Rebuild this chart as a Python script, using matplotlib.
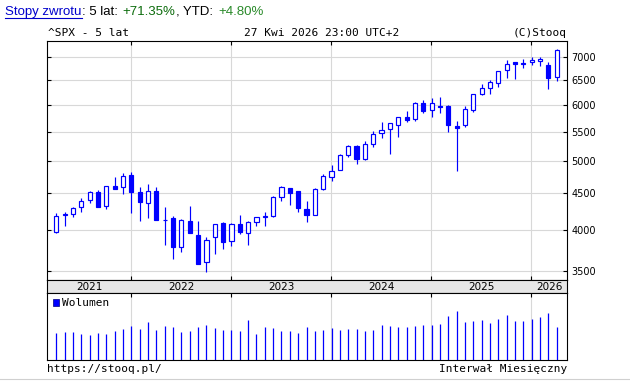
import matplotlib
matplotlib.use('Agg')
import matplotlib.pyplot as plt
from matplotlib.ticker import FixedLocator, NullLocator, FixedFormatter
from matplotlib.lines import Line2D
from matplotlib.patches import Rectangle
import numpy as np

# ---------------- data (monthly ^SPX candles, Apr 2021 - Apr 2026) ----------------
months = ['2021-04', '2021-05', '2021-06', '2021-07', '2021-08', '2021-09', '2021-10', '2021-11', '2021-12',
          '2022-01', '2022-02', '2022-03', '2022-04', '2022-05', '2022-06', '2022-07', '2022-08', '2022-09',
          '2022-10', '2022-11', '2022-12',
          '2023-01', '2023-02', '2023-03', '2023-04', '2023-05', '2023-06', '2023-07', '2023-08', '2023-09',
          '2023-10', '2023-11', '2023-12',
          '2024-01', '2024-02', '2024-03', '2024-04', '2024-05', '2024-06', '2024-07', '2024-08', '2024-09',
          '2024-10', '2024-11', '2024-12',
          '2025-01', '2025-02', '2025-03', '2025-04', '2025-05', '2025-06', '2025-07', '2025-08', '2025-09',
          '2025-10', '2025-11', '2025-12',
          '2026-01', '2026-02', '2026-03', '2026-04']

opens = [3974, 4192, 4216, 4300, 4406, 4528, 4317, 4610, 4602,
         4778, 4519, 4363, 4540, 4130, 4150, 3781, 4113, 3937, 3609, 3902, 4087,
         3853, 4071, 3964, 4102, 4167, 4181, 4450, 4578, 4530, 4284, 4201, 4559,
         4745, 4861, 5098, 5257, 5029, 5283, 5471, 5538, 5624, 5758, 5724, 6040,
         5903, 5970, 5968, 5597, 5626, 5897, 6205, 6341, 6448, 6715, 6886, 6860,
         6890, 6910, 6820, 6560]
highs = [4218, 4238, 4302, 4429, 4537, 4546, 4608, 4743, 4808,
         4819, 4595, 4637, 4593, 4307, 4177, 4140, 4325, 4119, 3906, 4080, 4101,
         4095, 4195, 4110, 4170, 4231, 4458, 4607, 4584, 4541, 4393, 4587, 4793,
         4932, 5111, 5265, 5264, 5342, 5505, 5670, 5651, 5767, 5878, 6045, 6100,
         6128, 6147, 5986, 5696, 5968, 6215, 6427, 6508, 6699, 6930, 6890, 6952,
         7000, 7004, 6900, 7190]
lows = [3955, 4056, 4164, 4233, 4367, 4306, 4278, 4560, 4495,
        4223, 4115, 4157, 4124, 3811, 3637, 3722, 3955, 3584, 3492, 3699, 3764,
        3794, 3943, 3809, 4049, 4048, 4167, 4385, 4335, 4238, 4104, 4197, 4547,
        4683, 4853, 5057, 4954, 5011, 5235, 5391, 5120, 5403, 5674, 5696, 5833,
        5773, 5837, 5489, 4835, 5578, 5861, 6201, 6212, 6360, 6551, 6528, 6760,
        6820, 6800, 6320, 6480]
closes = [4181, 4204, 4297, 4395, 4523, 4308, 4605, 4567, 4766,
          4516, 4374, 4530, 4132, 4132, 3785, 4130, 3955, 3586, 3872, 4080, 3840,
          4077, 3970, 4109, 4169, 4180, 4450, 4589, 4508, 4288, 4194, 4568, 4770,
          4846, 5096, 5254, 5036, 5278, 5460, 5522, 5648, 5762, 5705, 6032, 5882,
          6041, 5955, 5612, 5569, 5912, 6205, 6339, 6460, 6688, 6840, 6849, 6845,
          6930, 6955, 6537, 7174]
volume = [27.3, 28.3, 28.3, 26.3, 25.3, 27.3, 26.3, 29.3, 31.3,
          34.3, 31.3, 38.3, 30.3, 34.3, 33.3, 28.3, 29.3, 33.3, 35.3, 32.3, 30.3,
          30.3, 29.3, 40.3, 26.3, 33.3, 32.3, 29.3, 29.3, 27.3, 33.3, 29.3, 30.3,
          32.3, 30.3, 31.3, 31.3, 29.3, 30.3, 35.3, 34.3, 33.3, 33.3, 34.3, 35.3,
          35.3, 36.3, 44.3, 49.3, 38.3, 39.3, 40.3, 37.3, 41.3, 45.3, 39.3, 39.3,
          41.3, 43.3, 47.3, 33.3]
price_ticks = [3500, 4000, 4500, 5000, 5500, 6000, 6500, 7000]
years = ['2021', '2022', '2023', '2024', '2025', '2026']

# ---------------- layout ----------------
W, H = 630, 383
BLUE = '#0000ff'
GRID = '#d8d8d8'
MONO = 'DejaVu Sans Mono'

fig = plt.figure(figsize=(W / 100, H / 100), dpi=100)
fig.patch.set_facecolor('white')


def rect(l, t, r, b):
    return [l / W, 1 - b / H, (r - l) / W, (b - t) / H]


def fx(px):
    return px / W


def fy(py):
    return 1 - py / H


L, R = 47.3, 567.3
ax = fig.add_axes(rect(L, 41.3, R, 280.3))
axs = fig.add_axes(rect(L, 280.3, R, 292.7))
axv = fig.add_axes(rect(L, 292.7, R, 360.3))

n = len(months)
x = np.arange(n)
o = np.array(opens, float)
h = np.array(highs, float)
lo = np.array(lows, float)
c = np.array(closes, float)
up = c >= o
xlim = (-1.08, 61.27)
year_starts = [i for i, m in enumerate(months) if m.endswith('-01')]
bounds = [i - 0.05 for i in year_starts]

# ---------------- main candlestick panel ----------------
ax.set_yscale('log')
ax.vlines(x, lo, h, color=BLUE, lw=0.85, zorder=2)
bottoms = np.minimum(o, c)
heights = np.abs(c - o)
ax.bar(x[up], heights[up], bottom=bottoms[up], width=0.5, facecolor='white',
       edgecolor=BLUE, linewidth=0.85, zorder=3)
ax.bar(x[~up], heights[~up], bottom=bottoms[~up], width=0.5, facecolor=BLUE,
       edgecolor=BLUE, linewidth=0.85, zorder=3)
ax.set_xlim(*xlim)
ax.set_ylim(3396, 7370)
ax.yaxis.set_major_locator(FixedLocator(price_ticks))
ax.yaxis.set_minor_locator(NullLocator())
ax.yaxis.set_major_formatter(FixedFormatter([str(t) for t in price_ticks]))
ax.xaxis.set_major_locator(FixedLocator(bounds))
ax.xaxis.set_minor_locator(NullLocator())
ax.tick_params(axis='y', which='both', direction='in', length=3, width=0.8,
               left=True, right=True, labelleft=False, labelright=True,
               labelsize=7, pad=3, colors='black')
ax.tick_params(axis='x', which='both', direction='in', length=3, width=0.8,
               top=True, bottom=True, labelbottom=False)
ax.grid(True, color=GRID, lw=0.8, zorder=0)
ax.set_axisbelow(True)
for sp in ax.spines.values():
    sp.set_color('black')
    sp.set_linewidth(0.8)

# ---------------- year strip ----------------
axs.set_facecolor('#e6e6e6')
axs.set_xlim(*xlim)
axs.set_ylim(0, 1)
axs.set_xticks([])
axs.set_yticks([])
edges = [xlim[0]] + bounds + [xlim[1]]
for i, yr in enumerate(years):
    axs.text((edges[i] + edges[i + 1]) / 2, 0.45, yr, ha='center', va='center',
             fontsize=7.5, color='black')
for sp in axs.spines.values():
    sp.set_color('black')
    sp.set_linewidth(0.8)

# ---------------- volume panel ----------------
axv.vlines(x, 0, volume, color=BLUE, lw=0.9, zorder=3)
axv.set_xlim(*xlim)
axv.set_ylim(0, 67.6)
axv.set_yticks([])
axv.xaxis.set_major_locator(FixedLocator(bounds))
axv.tick_params(axis='x', direction='in', length=3, width=0.8, top=True,
                bottom=False, labelbottom=False)
axv.grid(True, axis='x', color=GRID, lw=0.8, zorder=0)
axv.set_axisbelow(True)
for sp in axv.spines.values():
    sp.set_color('black')
    sp.set_linewidth(0.8)

fig.add_artist(Rectangle((fx(53.3), fy(305.7)), 6 / W, 6.4 / H, transform=fig.transFigure,
                         facecolor=BLUE, edgecolor='#000080', lw=0.5))
fig.text(fx(62.5), fy(302.5), 'Wolumen', fontsize=8, family=MONO, va='center', ha='left')

# ---------------- header texts ----------------
fig.text(fx(48), fy(33), '^SPX - 5 lat', fontsize=8, family=MONO, va='center', ha='left')
fig.text(fx(322), fy(33), '27 Kwi 2026 23:00 UTC+2', fontsize=8, family=MONO, va='center', ha='center')
fig.text(fx(567), fy(33), '(C)Stooq', fontsize=8, family=MONO, va='center', ha='right')

top_y = fy(12)
SANS = 'Liberation Sans'
fig.text(fx(4.8), top_y, 'Stopy zwrotu', fontsize=9.5, family=SANS, color='#0000cc', va='center')
fig.add_artist(Line2D([fx(4.8), fx(81.5)], [fy(17.8), fy(17.8)], color='#0000cc', lw=0.8,
                      transform=fig.transFigure))
fig.text(fx(81.5), top_y, ': 5 lat: ', fontsize=9.5, family=SANS, color='black', va='center')
fig.text(fx(122.5), top_y, '+71.35%', fontsize=9.5, family=SANS, color='#0b6b0b', va='center')
fig.text(fx(175.5), top_y, ', YTD: ', fontsize=9.5, family=SANS, color='black', va='center')
fig.text(fx(218), top_y, '+4.80%', fontsize=9.5, family=SANS, color='#2a8a2a', va='center')

# ---------------- footer ----------------
fig.text(fx(47.3), fy(369), 'https://stooq.pl/', fontsize=8, family=MONO, va='center', ha='left')
fig.text(fx(567.3), fy(369), 'Interwał Miesięczny', fontsize=8, family=MONO, va='center', ha='right')
fig.add_artist(Line2D([0, 1], [fy(379.3), fy(379.3)], color='#d0d0d0', lw=0.8,
                      transform=fig.transFigure))

fig.savefig('out.png', dpi=100, facecolor='white')
